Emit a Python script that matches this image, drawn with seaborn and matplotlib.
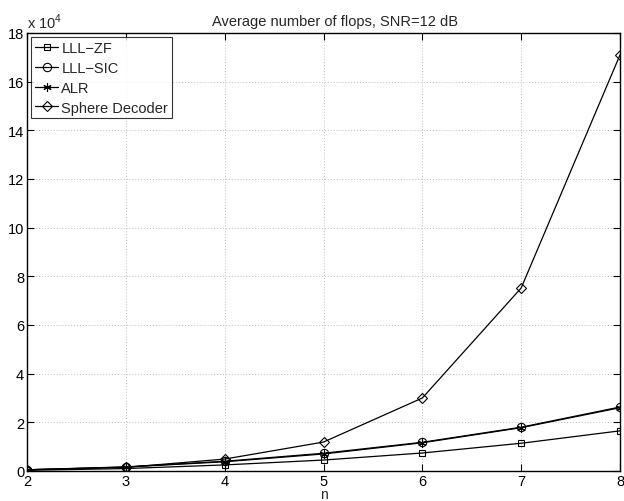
import matplotlib
matplotlib.use("Agg")
import matplotlib.pyplot as plt
import seaborn as sns
import pandas as pd
from matplotlib.ticker import FuncFormatter, MultipleLocator

n_vals = [2, 3, 4, 5, 6, 7, 8]
lll_zf = [300, 1000, 2500, 4500, 7400, 11400, 16500]
lll_sic = [500, 1700, 4000, 7300, 11800, 18000, 26300]
alr = [500, 1600, 3800, 7000, 11600, 17800, 26000]
sphere = [500, 1500, 4900, 11900, 30000, 75200, 171000]
series_names = ["LLL\u2212ZF", "LLL\u2212SIC", "ALR", "Sphere Decoder"]
markers = ["s", "o", (6, 2, 0), "D"]
msizes = [5, 6, 6, 5]

sns.set_theme(style="white")
plt.rcParams['font.family'] = ['Liberation Sans', 'DejaVu Sans']
plt.rcParams['mathtext.fontset'] = 'custom'
plt.rcParams['mathtext.rm'] = 'Liberation Sans'

fig = plt.figure(figsize=(6.24, 5.02), dpi=100)
ax = fig.add_axes([27/624, 30/502, 593/624, 438/502])

for name, vals, m, ms in zip(series_names, [lll_zf, lll_sic, alr, sphere], markers, msizes):
    df = pd.DataFrame({"n": n_vals, "flops": vals})
    sns.lineplot(data=df, x="n", y="flops", ax=ax, color="black", lw=0.9,
                 marker=m, markersize=ms, markerfacecolor="none",
                 markeredgecolor="black", markeredgewidth=0.8, label=name)

ax.set_xlim(2, 8)
ax.set_ylim(0, 180000)
ax.xaxis.set_major_locator(MultipleLocator(1))
ax.yaxis.set_major_locator(MultipleLocator(20000))
ax.yaxis.set_major_formatter(FuncFormatter(lambda v, p: f"{int(round(v/1e4))}"))
ax.grid(True, color="#bdbdbd", linestyle=(0, (1, 2)), linewidth=0.7)
for s in ax.spines.values():
    s.set_color("black")
    s.set_linewidth(1.0)
ax.tick_params(direction="in", length=5, width=0.8, colors="black",
               labelsize=10.5, top=True, right=True, bottom=True, left=True, pad=2)
ax.set_xlabel("")
ax.set_ylabel("")
fig.text((27 + 620) / 2 / 624, 0.0, "n", fontsize=10, ha="center", va="bottom")
ax.set_title("Average number of flops, SNR=12 dB", fontsize=10.5, pad=6, x=0.52)
ax.text(0.0, 1.005, r"x 10$^{4}$", transform=ax.transAxes, fontsize=10.5,
        ha="left", va="bottom")

leg = ax.legend(loc="upper left", fontsize=10.5, frameon=True, fancybox=False,
                edgecolor="black", borderpad=0.25, labelspacing=0.4,
                handlelength=1.6, handletextpad=0.2, borderaxespad=0.3)
leg.get_frame().set_linewidth(0.8)

fig.savefig("out.png", dpi=100)
